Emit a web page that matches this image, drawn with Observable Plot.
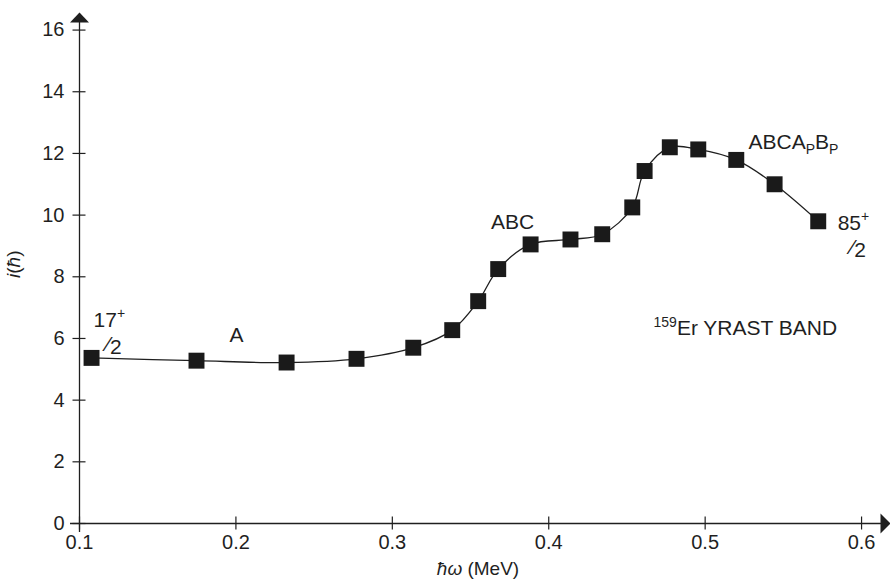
<!DOCTYPE html>
<html><head><meta charset="utf-8">
<script src="https://cdn.jsdelivr.net/npm/d3@7"></script>
<script src="https://cdn.jsdelivr.net/npm/@observablehq/plot@0.6"></script>
<style>
body{margin:0;background:#fff;}
#chart svg{font-family:"Liberation Sans",Arial,Helvetica,sans-serif;}
</style>
</head><body><div id="chart"></div>
<script>
// ---- data ----
const omega = [0.1077,0.1748,0.2324,0.2771,0.3134,0.3383,0.3549,0.3677,0.3884,0.4139,0.4342,0.4534,0.4613,0.4774,0.4956,0.5199,0.5444,0.5723];
const spin  = [5.37,5.28,5.22,5.34,5.70,6.27,7.21,8.25,9.05,9.21,9.38,10.25,11.43,12.20,12.13,11.79,11.00,9.80];
const xTicks = [0.1,0.2,0.3,0.4,0.5,0.6];
const yTicks = [0,2,4,6,8,10,12,14,16];
const xTitle = "ħω (MeV)";
const yTitle = "i(ħ)";
const bandLabels = [
  {x:0.2004, y:6.10, text:"A"},
  {x:0.3769, y:9.78, text:"ABC"}
];
const startLabels = [
  {x:0.5277, y:12.37, text:"ABCAPBP"},
  {x:0.4670, y:6.34, text:"159Er YRAST BAND"},
  {x:0.1090, y:6.60, text:"17+"},
  {x:0.5847, y:9.72, text:"85+"}
];
const fracLabels = [
  {x:0.1090, y:6.53, text:"/2"},
  {x:0.5847, y:9.66, text:"/2"}
];

// ---- layout ----
const W = 890, H = 584;
const xDom = [0.1, 0.6185], yDom = [0, 16.57];
const mL = 79, mR = 0, mT = 12, mB = 61;
const pxX = (W - mL - mR) / (xDom[1] - xDom[0]);
const pxY = (H - mT - mB) / (yDom[1] - yDom[0]);
const tickHalf = 6.5;

const data = omega.map((x, i) => ({x, y: spin[i]}));

const upArrow = {draw(c){ c.moveTo(0,0); c.lineTo(-9.5,10); c.lineTo(9.5,10); c.closePath(); }};
const rightArrow = {draw(c){ c.moveTo(0,0); c.lineTo(-10,-10); c.lineTo(-10,10); c.closePath(); }};

const ink = "#1f1f1f";

const plot = Plot.plot({
  width: W, height: H,
  marginLeft: mL, marginRight: mR, marginTop: mT, marginBottom: mB,
  x: {domain: xDom},
  y: {domain: yDom},
  style: {fontFamily: '"Liberation Sans",Arial,Helvetica,sans-serif', color: ink, background: "#fff"},
  marks: [
    // axis lines
    Plot.ruleY([0], {x1: xDom[0] - 9/pxX, x2: xDom[1] - 9/pxX, stroke: ink, strokeWidth: 1.3}),
    Plot.ruleX([xDom[0]], {y1: -9/pxY, y2: yDom[1] - 9/pxY, stroke: ink, strokeWidth: 1.3}),
    Plot.dot([0], {x: () => xDom[0], y: () => yDom[1], symbol: upArrow, fill: ink, stroke: "none"}),
    Plot.dot([0], {x: () => xDom[1], y: () => 0, symbol: rightArrow, fill: ink, stroke: "none"}),
    // ticks crossing the axes
    Plot.ruleX(xTicks, {x: d => d, y1: -tickHalf/pxY, y2: tickHalf/pxY, stroke: ink, strokeWidth: 1.2}),
    Plot.ruleY(yTicks, {y: d => d, x1: xDom[0] - tickHalf/pxX, x2: xDom[0] + tickHalf/pxX, stroke: ink, strokeWidth: 1.2}),
    // tick labels
    Plot.axisX({ticks: xTicks, tickSize: 0, tickPadding: 11, tickFormat: d3.format(".1f"), fontSize: 20, label: null}),
    Plot.axisY({ticks: yTicks, tickSize: 0, tickPadding: 15, fontSize: 20, label: null}),
    // data
    Plot.line(data, {x: "x", y: "y", curve: "catmull-rom", stroke: ink, strokeWidth: 1.3}),
    Plot.dot(data, {x: "x", y: "y", symbol: "square", r: 9, fill: "#1a1a1a", stroke: "none"}),
    // annotations
    Plot.text(bandLabels, {x: "x", y: "y", text: "text", fontSize: 21, fill: ink}),
    Plot.text(startLabels, {x: "x", y: "y", text: "text", textAnchor: "start", fontSize: 21, fill: ink}),
    Plot.text(fracLabels, {x: "x", y: "y", text: "text", textAnchor: "start", fontSize: 21, dx: 13, dy: 25, fill: ink}),
    // axis titles
    Plot.text([xTitle], {frameAnchor: "bottom", dx: -7, dy: 51, fontSize: 19, fill: ink}),
    Plot.text([yTitle], {frameAnchor: "left", dx: -66, dy: 10, rotate: -90, fontSize: 19, fill: ink})
  ]
});

// rich text: sub/superscripts and italics
const svg = d3.select(plot);
svg.selectAll("text").each(function() {
  const t = d3.select(this);
  const s = this.textContent;
  const rebuild = parts => {
    t.text(null);
    parts.forEach(p => {
      const ts = t.append("tspan").text(p.t);
      if (p.fs) ts.attr("font-size", p.fs);
      if (p.dy) ts.attr("dy", p.dy);
      if (p.dx) ts.attr("dx", p.dx);
      if (p.it) ts.attr("font-style", "italic");
    });
  };
  if (s === "ABCAPBP") rebuild([{t:"ABCA"},{t:"P",fs:14,dy:5},{t:"B",dy:-5},{t:"P",fs:14,dy:5}]);
  else if (s === "159Er YRAST BAND") rebuild([{t:"159",fs:14,dy:-8},{t:"Er YRAST BAND",dy:8}]);
  else if (s === "17+" || s === "85+") rebuild([{t:s.slice(0,2)},{t:"+",fs:14,dy:-9}]);
  else if (s === "/2") rebuild([{t:"\u2044",fs:21,dy:-3},{t:"2",dy:3}]);
  else if (s === xTitle) rebuild([{t:"ħω",it:true},{t:" (MeV)"}]);
  else if (s === yTitle) rebuild([{t:"i",it:true},{t:"("},{t:"ħ",it:true},{t:")"}]);
});

document.getElementById("chart").appendChild(plot);
</script>
</body></html>
